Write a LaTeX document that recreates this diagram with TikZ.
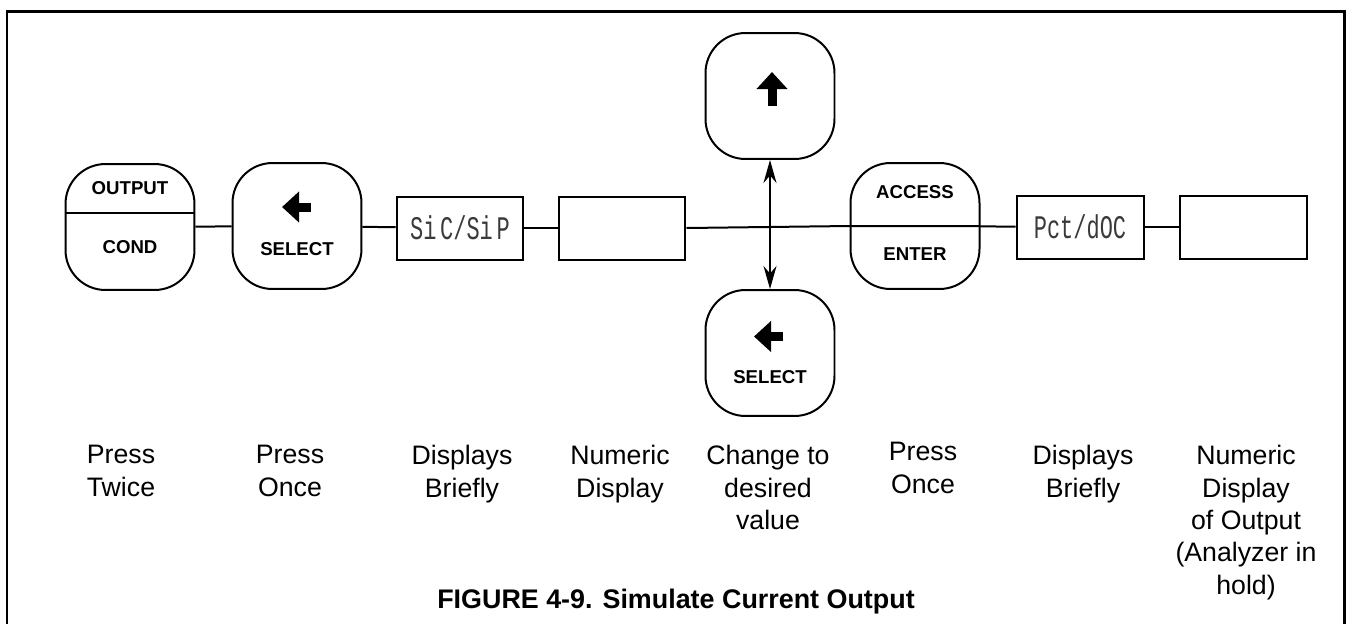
\documentclass[tikz,border=0pt]{standalone}
\usepackage{fontspec}
\setmainfont{Liberation Sans}
\setsansfont{Liberation Sans}
\setmonofont{Liberation Mono}
\usepackage{tikz}
\usetikzlibrary{arrows.meta,positioning}
\definecolor{lcdgray}{HTML}{3A3A3A}

\begin{document}
\begin{tikzpicture}[x=0.02cm, y=-0.02cm,
    keybox/.style={draw, line width=0.04cm, rounded corners=0.8cm, minimum width=2.58cm, minimum height=2.52cm, inner sep=0pt},
    lcdbox/.style={draw, line width=0.04cm, minimum width=2.54cm, minimum height=1.26cm, inner sep=0pt, font=\fontsize{12.5}{14}\ttfamily, text=lcdgray},
    keytext/.style={font=\fontsize{10.6}{12}\selectfont\bfseries, inner sep=0pt},
    note/.style={anchor=north, align=center, font=\fontsize{15.2}{18.4}\selectfont, inner sep=0pt},
    link/.style={line width=0.04cm},
    keyarrow/.style={line width=0.18cm, -{Triangle[length=0.34cm, width=0.6cm]}},
    updown/.style={line width=0.04cm, {Stealth[length=0.46cm, width=0.26cm]}-{Stealth[length=0.46cm, width=0.26cm]}}
]
    \useasboundingbox (0,0) rectangle (1348,623);
    % Frame, open at the bottom
    \draw[line width=0.06cm] (7,640) -- (7,11) -- (1344,11) -- (1344,640);

    % OUTPUT / COND key
    \node[keybox] (outcond) at (130,227) {};
    \draw[link] ([yshift=0.28cm]outcond.west) -- ([yshift=0.28cm]outcond.east);
    \node[keytext] (outtxt) at ([yshift=0.78cm]outcond.center) {OUTPUT};
    \node[keytext] (condtxt) at ([yshift=-0.4cm]outcond.center) {COND};

    % SELECT key
    \node[keybox] (sel1) at (297,226) {};
    \draw[keyarrow] ([shift={(0.28cm,0.38cm)}]sel1.center) -- ++(-0.58cm,0cm);
    \node[keytext] (sel1txt) at ([yshift=-0.46cm]sel1.center) {SELECT};

    % Displays
    \node[lcdbox] (sicsip) at (460,228) {\scalebox{1}[1.5]{Si\,C/Si\,P}};
    \node[lcdbox] (num1) at (622,228) {};

    % Up and SELECT keys
    \node[keybox] (up) at (770,96) {};
    \draw[keyarrow] ([shift={(0.04cm,-0.2cm)}]up.center) -- ++(0cm,0.68cm);
    \node[keybox] (sel2) at (770,353) {};
    \draw[keyarrow] ([shift={(0.26cm,0.33cm)}]sel2.center) -- ++(-0.58cm,0cm);
    \node[keytext] (sel2txt) at ([yshift=-0.49cm]sel2.center) {SELECT};
    \draw[updown] (up.south) -- (sel2.north);

    % ACCESS / ENTER key
    \node[keybox] (access) at (915,226) {};
    \node[keytext] (acctxt) at ([yshift=0.68cm]access.center) {ACCESS};
    \node[keytext] (enttxt) at ([yshift=-0.56cm]access.center) {ENTER};

    \node[lcdbox] (pct) at (1080,227) {\scalebox{1}[1.5]{Pct/dOC}};
    \node[lcdbox] (num2) at (1243,227) {};

    % Connectors
    \draw[link] (outcond) -- (sel1);
    \draw[link] (sel1) -- (sicsip);
    \draw[link] (sicsip) -- (num1);
    \draw[link] (num1.east) -- (access.west) -- (access.east);
    \draw[link] (access) -- (pct);
    \draw[link] (pct) -- (num2);

    % Notes below
    \node[note] (n1) at (121,445) {Press\\Twice};
    \node[note] (n2) at (290,445) {Press\\Once};
    \node[note] (n3) at (462,445) {Displays\\Briefly};
    \node[note] (n4) at (620,445) {Numeric\\Display};
    \node[note] (n5) at (768,445) {Change to\\desired\\value};
    \node[note] (n6) at (923,442) {Press\\Once};
    \node[note] (n7) at (1083,445) {Displays\\Briefly};
    \node[note] (n8) at (1246,445) {Numeric\\Display\\of Output\\(Analyzer in\\hold)};

    \node[font=\fontsize{15.3}{17}\selectfont\bfseries] (caption) at (676,602) {FIGURE 4-9. Simulate Current Output};
\end{tikzpicture}
\end{document}
